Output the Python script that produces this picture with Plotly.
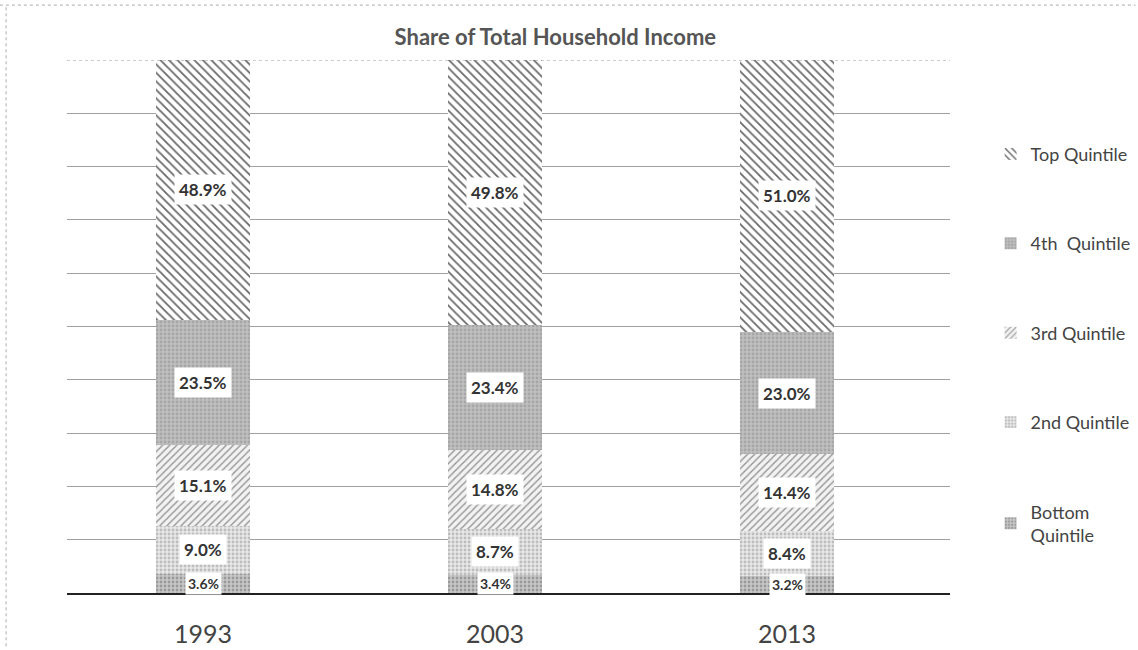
import plotly.graph_objects as go

years = ["1993", "2003", "2013"]
series_names = ["Bottom<br>Quintile", "2nd Quintile", "3rd Quintile", "4th  Quintile", "Top Quintile"]
bottom = [3.6, 3.4, 3.2]
second = [9.0, 8.7, 8.4]
third = [15.1, 14.8, 14.4]
fourth = [23.5, 23.4, 23.0]
top = [48.9, 49.8, 51.0]
title_text = "Share of Total Household Income"

series_values = [bottom, second, third, fourth, top]
styles = [
    dict(shape=".", fgcolor="#9a9a9a", bgcolor="#c8c8c8", size=4, solidity=0.4),
    dict(shape=".", fgcolor="#bdbdbd", bgcolor="#e8e8e8", size=4, solidity=0.4),
    dict(shape="/", fgcolor="#959595", bgcolor="#f2f2f2", size=5, solidity=0.28),
    dict(shape=".", fgcolor="#a6a6a6", bgcolor="#bfbfbf", size=4, solidity=0.4),
    dict(shape="\\", fgcolor="#6a6a6a", bgcolor="#ffffff", size=6, solidity=0.3),
]

FONT = "Lato, Open Sans, sans-serif"

fig = go.Figure()
n = len(series_names)
for i, (name, vals, st) in enumerate(zip(series_names, series_values, styles)):
    fig.add_trace(go.Bar(
        x=years, y=vals, name=name, width=0.32,
        legendgroup=f"g{i}", legendrank=100 * (n - i),
        marker=dict(color=st["bgcolor"], line=dict(width=0),
                    pattern=dict(shape=st["shape"], fgcolor=st["fgcolor"],
                                 bgcolor=st["bgcolor"], size=st["size"],
                                 solidity=st["solidity"], fillmode="replace")),
        hoverinfo="skip",
    ))

# data labels with white boxes
for j, yr in enumerate(years):
    cum = 0.0
    for k, vals in enumerate(series_values):
        v = vals[j]
        mid = cum + v / 2
        cum += v
        fig.add_annotation(
            x=j, y=mid, xref="x", yref="y", text=f"<b>{v:.1f}%</b>", showarrow=False,
            font=dict(family=FONT, size=14 if k == 0 else 17, color="#333333"),
            bgcolor="white", borderpad=2 if k == 0 else 4,
        )

# top gridline (dotted) and scan border lines (decorative)
fig.add_shape(type="line", xref="paper", yref="y", x0=0, x1=1, y0=100, y1=100,
              line=dict(color="#999999", width=1, dash="dot"))
fig.add_shape(type="line", xref="paper", yref="paper", x0=-0.076, x1=1.21, y0=1.103, y1=1.103,
              line=dict(color="#aaaaaa", width=1, dash="dot"))
fig.add_shape(type="line", xref="paper", yref="paper", x0=-0.069, x1=-0.069, y0=-0.1, y1=1.103,
              line=dict(color="#aaaaaa", width=1, dash="dot"))

fig.update_layout(
    barmode="stack",
    width=1138, height=650,
    margin=dict(l=67, r=188, t=60, b=57, autoexpand=False),
    paper_bgcolor="white", plot_bgcolor="white",
    font=dict(family=FONT, color="#333333"),
    title=dict(text=f"<b>{title_text}</b>", x=0.488, xanchor="center",
               y=1 - 37 / 650, yanchor="middle", yref="container",
               font=dict(size=22, color="#555555", family=FONT)),
    legend=dict(x=1.046, xanchor="left", y=0.858, yanchor="top",
                traceorder="grouped", tracegroupgap=63,
                font=dict(size=18, color="#444444"), bgcolor="rgba(0,0,0,0)"),
    xaxis=dict(type="category", range=[-0.466, 2.558], showline=True, automargin=False,
               linecolor="#222222", linewidth=2,
               ticks="", tickfont=dict(size=25, color="#444444"), ticklabelstandoff=18,
               showgrid=False),
    yaxis=dict(range=[0, 100], dtick=10, showticklabels=False, showgrid=True,
               automargin=False,
               gridcolor="#a0a0a0", gridwidth=1, zeroline=False, ticks=""),
    showlegend=True,
)

fig.write_html("out.html")
